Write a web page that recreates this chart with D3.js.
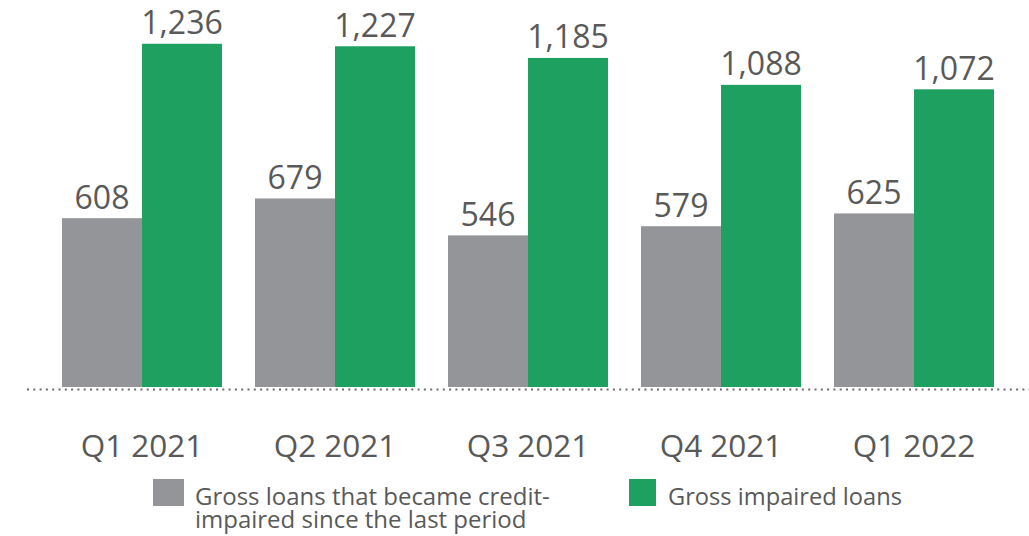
<!DOCTYPE html>
<html><head><meta charset="utf-8">
<script src="https://cdn.jsdelivr.net/npm/d3@7"></script>
<style>body{margin:0;background:#fff}svg{display:block}</style>
</head><body>
<svg id="c" width="1029" height="536"></svg>
<script>
const categories = ["Q1 2021","Q2 2021","Q3 2021","Q4 2021","Q1 2022"];
const newlyImpaired = [608,679,546,579,625];
const grossImpaired = [1236,1227,1185,1088,1072];
const seriesNames = ["Gross loans that became credit-|impaired since the last period","Gross impaired loans"];
const colors = ["#939598","#1da060"];

const svg = d3.select("#c");
const textColor = "#595959";
const font = "'Open Sans', sans-serif";

const x = d3.scaleBand().domain(categories).range([45.5,1010.5]).paddingInner(0.171).paddingOuter(0.0855);
const xs = d3.scaleBand().domain([0,1]).range([0,x.bandwidth()]);
const y = d3.scaleLinear().domain([0,1300]).range([387,26]);

const series = [newlyImpaired, grossImpaired];
series.forEach((vals,si)=>{
  const g = svg.append("g");
  g.selectAll("rect").data(vals).join("rect")
    .attr("x",(d,i)=>x(categories[i])+xs(si))
    .attr("y",d=>y(d))
    .attr("width",xs.bandwidth())
    .attr("height",d=>y(0)-y(d))
    .attr("fill",colors[si]);
  g.selectAll("text").data(vals).join("text")
    .attr("x",(d,i)=>x(categories[i])+xs(si)+xs.bandwidth()/2)
    .attr("y",d=>y(d)-9.5)
    .attr("text-anchor","middle")
    .attr("font-family",font).attr("font-size",32).attr("fill",textColor)
    .text(d=>d3.format(",")(d));
});

// dotted baseline
svg.append("line").attr("x1",27).attr("x2",1029).attr("y1",y(0)+2.5).attr("y2",y(0)+2.5)
  .attr("stroke","#6d6d6d").attr("stroke-width",2).attr("stroke-dasharray","2,4.3");

// category labels
svg.append("g").selectAll("text").data(categories).join("text")
  .attr("x",d=>x(d)+x.bandwidth()/2).attr("y",457)
  .attr("text-anchor","middle").attr("font-family",font).attr("font-size",31.5).attr("fill",textColor)
  .text(d=>d);

// legend
const leg = [
  {sx:153, sw:31, tx:195, lines:seriesNames[0].split("|"), w:355},
  {sx:629, sw:27, tx:668, lines:[seriesNames[1]], w:234}
];
leg.forEach((l,i)=>{
  svg.append("rect").attr("x",l.sx).attr("y",479).attr("width",l.sw).attr("height",27).attr("fill",colors[i]);
  const t = svg.append("text")
    .attr("font-family",font).attr("font-size",24.5).attr("fill",textColor);
  l.lines.forEach((s,j)=>{
    t.append("tspan").attr("x",0).attr("y",505+j*23).text(s);
  });
  const first = t.select("tspan").node().getComputedTextLength();
  const k = l.w/first;
  t.attr("transform",`translate(${l.tx},0) scale(${k},1)`);
});
</script>
</body></html>
